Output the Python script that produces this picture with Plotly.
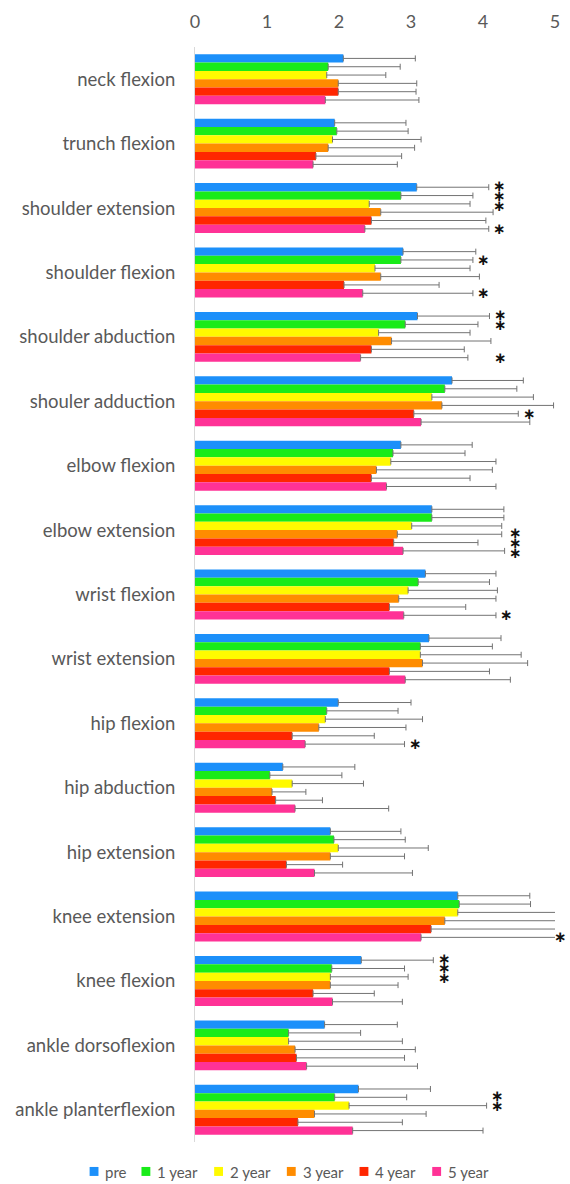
import plotly.graph_objects as go

categories = ["neck flexion", "trunch flexion", "shoulder extension", "shoulder flexion",
              "shoulder abduction", "shouler adduction", "elbow flexion", "elbow extension",
              "wrist flexion", "wrist extension", "hip flexion", "hip abduction",
              "hip extension", "knee extension", "knee flexion", "ankle dorsoflexion",
              "ankle planterflexion"]
series_names = ["pre", "1 year", "2 year", "3 year", "4 year", "5 year"]

pre    = [2.06, 1.94, 3.08, 2.89, 3.09, 3.57, 2.86, 3.29, 3.20, 3.25, 1.99, 1.22, 1.88, 3.65, 2.31, 1.80, 2.27]
year1  = [1.85, 1.97, 2.86, 2.86, 2.92, 3.47, 2.75, 3.29, 3.10, 3.13, 1.83, 1.04, 1.93, 3.67, 1.90, 1.30, 1.94]
year2  = [1.83, 1.91, 2.42, 2.50, 2.55, 3.29, 2.72, 3.01, 2.96, 3.13, 1.81, 1.35, 1.99, 3.65, 1.88, 1.30, 2.14]
year3  = [1.99, 1.85, 2.58, 2.58, 2.73, 3.43, 2.52, 2.81, 2.83, 3.16, 1.72, 1.07, 1.88, 3.47, 1.88, 1.39, 1.66]
year4  = [1.99, 1.68, 2.45, 2.07, 2.45, 3.04, 2.45, 2.76, 2.70, 2.70, 1.35, 1.12, 1.27, 3.28, 1.64, 1.41, 1.43]
year5  = [1.81, 1.64, 2.36, 2.33, 2.30, 3.14, 2.66, 2.89, 2.90, 2.92, 1.53, 1.39, 1.66, 3.14, 1.91, 1.55, 2.19]

sd_pre   = [1.00, 0.99, 1.00, 1.01, 1.00, 0.99, 0.99, 1.00, 0.98, 1.00, 1.01, 1.00, 0.98, 1.00, 1.00, 1.01, 1.00]
sd_year1 = [1.00, 0.99, 1.00, 1.00, 1.01, 1.00, 1.00, 1.00, 0.99, 1.00, 0.99, 1.00, 0.99, 0.99, 1.01, 1.00, 1.00]
sd_year2 = [0.82, 1.23, 1.40, 1.32, 1.27, 1.41, 1.46, 1.25, 1.24, 1.40, 1.35, 0.99, 1.25, 1.45, 1.08, 1.58, 1.91]
sd_year3 = [1.09, 1.20, 1.56, 1.37, 1.38, 1.55, 1.61, 1.45, 1.35, 1.46, 1.21, 0.47, 1.03, 1.60, 0.94, 1.67, 1.55]
sd_year4 = [1.08, 1.19, 1.59, 1.32, 1.29, 1.45, 1.37, 1.17, 1.06, 1.39, 1.14, 0.65, 0.78, 1.80, 0.85, 1.50, 1.45]
sd_year5 = [1.30, 1.17, 1.72, 1.53, 1.49, 1.51, 1.52, 1.41, 1.28, 1.46, 1.38, 1.30, 1.36, 1.95, 0.97, 1.54, 1.81]

# significance markers: category -> list of series indices marked with an asterisk
significance = {
    "shoulder extension": [0, 1, 2, 5],
    "shoulder flexion": [1, 5],
    "shoulder abduction": [0, 1, 5],
    "shouler adduction": [4],
    "elbow extension": [3, 4, 5],
    "wrist flexion": [5],
    "hip flexion": [5],
    "knee extension": [5],
    "knee flexion": [0, 1, 2],
    "ankle planterflexion": [1, 2],
}

colors = ["rgb(28,144,250)", "rgb(25,235,25)", "rgb(255,250,0)",
          "rgb(255,140,0)", "rgb(255,38,0)", "rgb(255,50,150)"]

means = [pre, year1, year2, year3, year4, year5]
sds = [sd_pre, sd_year1, sd_year2, sd_year3, sd_year4, sd_year5]

# ---- layout constants (pixels) ----
W, H = 570, 1184
ML, MR, MT, MB = 194.5, 10, 45, 42
PW, PH = W - ML - MR, H - MT - MB
xmax_axis = 5
bargap = 0.225
n = len(series_names)
ncat = len(categories)
ypos = list(range(ncat))

fig = go.Figure()
for j in range(n):
    fig.add_trace(go.Bar(
        name=series_names[j], orientation="h", x=means[j], y=ypos,
        marker=dict(color=colors[j], line=dict(width=0)),
        error_x=dict(type="data", symmetric=False, array=sds[j],
                     arrayminus=[0] * ncat,
                     color="rgb(115,115,115)", thickness=1, width=3),
        showlegend=False,
    ))

annotations = []
shapes = []

# significance asterisks, stacked runs spaced slightly wider than bar rows
w = (1 - bargap) / n
row_px = PH / ncat * w
stack_px = 10.0
for cat, idxs in significance.items():
    i = categories.index(cat)
    xmax = max(means[j][i] + sds[j][i] for j in idxs)
    xa = min(xmax + 0.15, 5.07)
    runs = []
    for j in sorted(idxs):
        if runs and runs[-1][-1] == j - 1:
            runs[-1].append(j)
        else:
            runs.append([j])
    for run in runs:
        mid = (len(run) - 1) / 2
        for k, j in enumerate(run):
            yv = i - (1 - bargap) / 2 + (j + 0.5) * w
            annotations.append(dict(
                x=xa / xmax_axis, y=yv, xref="paper", yref="y",
                xanchor="center", yanchor="middle",
                text="<b>\u2217</b>", showarrow=False,
                yshift=-(k - mid) * (stack_px - row_px),
                font=dict(family="DejaVu Sans", size=15, color="#111111")))

# custom legend row below the plot
leg_y_px = 1172
leg_x_px = 87.5
sq = 9
for j, name in enumerate(series_names):
    x0 = (leg_x_px - ML) / PW
    x1 = (leg_x_px + sq - ML) / PW
    y0 = (H - MB - (leg_y_px + sq / 2 - 0.5)) / PH
    y1 = (H - MB - (leg_y_px - sq / 2 - 0.5)) / PH
    shapes.append(dict(type="rect", xref="paper", yref="paper", x0=x0, x1=x1, y0=y0, y1=y1,
                       fillcolor=colors[j], line=dict(width=0)))
    annotations.append(dict(
        x=(leg_x_px + sq + 5 - ML) / PW, y=(H - MB - leg_y_px) / PH,
        xref="paper", yref="paper", xanchor="left", yanchor="middle",
        text=name, showarrow=False,
        font=dict(family="Lato", size=15, color="#595959")))
    leg_x_px += sq + 5 + len(name) * 7.05 + 17.5

fig.update_layout(
    width=W, height=H,
    margin=dict(l=ML, r=MR, t=MT, b=MB),
    paper_bgcolor="white", plot_bgcolor="white",
    barmode="group", bargap=bargap, bargroupgap=0,
    font=dict(family="Lato", color="#595959", size=16),
    xaxis=dict(side="top", range=[0, xmax_axis], dtick=1, tick0=0, showgrid=False,
               zeroline=False, showline=False, ticks="",
               tickfont=dict(size=18, color="#595959"), ticklabelstandoff=14),
    yaxis=dict(tickvals=ypos, ticktext=categories, range=[ncat - 0.5, -0.5],
               showgrid=False, zeroline=False, showline=True,
               linecolor="#d9d9d9", linewidth=1, ticks="",
               tickfont=dict(size=18.5, color="#595959"), ticklabelstandoff=15),
    showlegend=False,
    annotations=annotations,
    shapes=shapes,
)

fig.write_html("out.html")
